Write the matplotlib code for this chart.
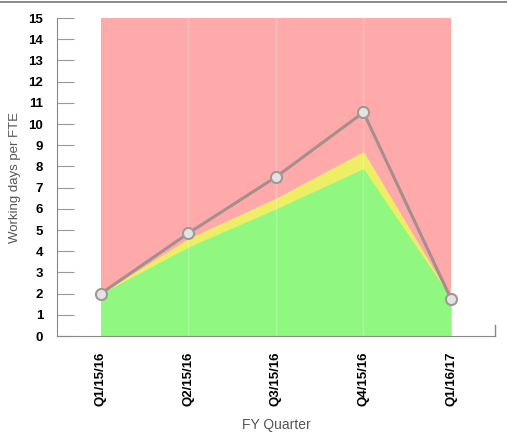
import numpy as np
import matplotlib
matplotlib.use('Agg')
import matplotlib.pyplot as plt

plt.rcParams['font.family'] = ['Liberation Sans', 'DejaVu Sans']

quarters = ['Q1/15/16', 'Q2/15/16', 'Q3/15/16', 'Q4/15/16', 'Q1/16/17']
green_top = [2.0, 4.2, 6.0, 7.9, 1.8]
yellow_top = [2.0, 4.6, 6.5, 8.7, 1.8]
red_top = [15, 15, 15, 15, 15]
actual = [2.0, 4.85, 7.5, 10.55, 1.75]

fig = plt.figure(figsize=(5.07, 4.37), dpi=100)
ax = fig.add_axes([0.1124, 0.231, 0.8636, 0.7278])

xx = np.arange(len(quarters))
ax.fill_between(xx, 0, red_top, color='#ffaaaa', lw=0)
ax.fill_between(xx, 0, yellow_top, color='#eeee66', lw=0)
ax.fill_between(xx, 0, green_top, color='#90f880', lw=0)

# faint vertical lines at each quarter
for x in xx[1:-1]:
    ax.axvline(x, color='white', lw=1, alpha=0.25, zorder=2)

ax.plot(xx, actual, color='#a58e8e', lw=2.2, zorder=3,
        marker='o', ms=8, mfc='#e6e2e2', mec='#a09898', mew=1.5)

ax.set_xlim(-0.5, 4.5)
ax.set_ylim(0, 15)
ax.set_yticks(range(0, 16))
ax.set_xticks(xx)
ax.set_xticklabels(quarters, rotation=90, fontweight='bold', fontsize=9.5)
for lbl in ax.get_yticklabels():
    lbl.set_fontweight('bold')
    lbl.set_fontsize(9.5)

ax.tick_params(axis='y', direction='in', length=12, color='#999999', pad=10)
ax.tick_params(axis='x', length=0, pad=11)
for s in ['top', 'right']:
    ax.spines[s].set_visible(False)
ax.spines['left'].set_color('#888888')
ax.spines['bottom'].set_color('#888888')

# small end mark on the x axis
ax.plot([4.5, 4.5], [0, 0.5], color='#888888', lw=1, clip_on=False)

ax.set_ylabel('Working days per FTE', color='#555555', fontsize=9.5, labelpad=5)
ax.set_xlabel('FY Quarter', color='#555555', fontsize=10, labelpad=9)

# image frame line at the top
fig.add_artist(plt.Line2D([0, 1], [0.995, 0.995], color='#777777', lw=1.2))

plt.savefig('out.png', dpi=100)
